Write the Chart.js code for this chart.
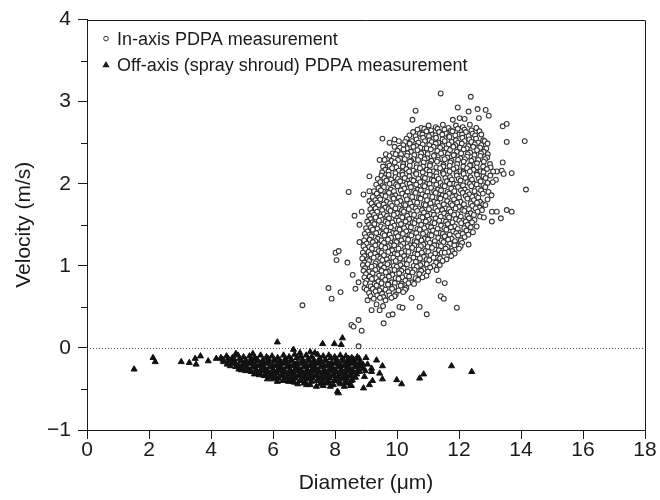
<!DOCTYPE html>
<html lang="en">
<head>
<meta charset="UTF-8">
<title>Droplet velocity vs diameter</title>
<script src="https://cdn.jsdelivr.net/npm/chart.js"></script>
<style>
  html, body { margin: 0; padding: 0; background: #fff; }
</style>
</head>
<body>
<canvas id="scatter" width="660" height="500"></canvas>
<script>
// series names, tick labels and the two point clouds (diameter um, velocity m/s)
const seriesNames = ['In-axis PDPA measurement', 'Off-axis (spray shroud) PDPA measurement'];
const xTickValues = [0, 2, 4, 6, 8, 10, 12, 14, 16, 18];
const yTickValues = [-1, 0, 1, 2, 3, 4];

// in-axis droplets: outliers plus the packed core, read row by row
const inAxis = [
  [10.60,2.89],[10.50,2.78],[11.41,3.10],[12.38,3.06],[11.96,2.93],[12.31,2.88],[12.60,2.91],[12.86,2.90],
  [12.96,2.83],[12.64,2.80],[11.80,2.78],[12.02,2.80],[12.18,2.79],[13.41,2.70],[13.54,2.73],
  [10.78,2.68],[11.02,2.71],[11.25,2.69],[11.48,2.72],[11.66,2.68],[11.90,2.71],[12.12,2.69],[12.35,2.72],
  [10.66,2.66],[10.88,2.67],[11.10,2.65],[11.31,2.67],[11.53,2.66],[11.74,2.65],[11.96,2.67],[12.18,2.66],[12.40,2.65],[12.56,2.68],
  [10.52,2.63],[10.74,2.61],[10.95,2.64],[11.14,2.60],[11.36,2.63],[11.58,2.61],[11.79,2.64],[12.00,2.60],
  [12.22,2.63],[12.44,2.61],[12.66,2.64],
  [10.40,2.59],[10.60,2.58],[10.82,2.60],[11.03,2.58],[11.24,2.59],[11.46,2.60],[11.67,2.58],[11.88,2.59],
  [12.10,2.60],[12.31,2.58],[12.52,2.59],[12.72,2.60],
  [9.53,2.55],[9.92,2.54],[10.31,2.55],[10.63,2.54],[10.84,2.56],[11.05,2.53],[11.26,2.56],[11.47,2.54],
  [11.69,2.57],[11.90,2.53],[12.11,2.56],[12.33,2.54],[12.55,2.55],[12.78,2.53],[13.54,2.51],[14.12,2.52],
  [10.06,2.52],[10.26,2.51],[10.48,2.52],[10.69,2.50],[10.90,2.52],[11.12,2.51],[11.33,2.50],[11.54,2.52],
  [11.76,2.51],[11.97,2.50],[12.18,2.52],[12.40,2.51],[12.62,2.50],[12.83,2.52],
  [9.76,2.50],[10.20,2.47],[10.41,2.49],[10.62,2.46],[10.83,2.48],[11.04,2.47],[11.25,2.49],[11.46,2.46],
  [11.67,2.48],[11.88,2.47],[12.09,2.49],[12.30,2.46],[12.51,2.48],[12.72,2.47],[12.92,2.49],
  [9.92,2.45],[10.10,2.44],[10.32,2.43],[10.53,2.45],[10.75,2.44],[10.96,2.43],[11.18,2.45],[11.39,2.44],
  [11.60,2.43],[11.82,2.45],[12.03,2.44],[12.25,2.43],[12.46,2.45],[12.68,2.44],[12.88,2.43],
  [10.02,2.40],[10.21,2.42],[10.45,2.39],[10.66,2.41],[10.86,2.38],[11.09,2.42],[11.30,2.40],[11.52,2.38],
  [11.71,2.41],[11.93,2.39],[12.15,2.42],[12.36,2.38],[12.58,2.41],[12.80,2.39],
  [9.64,2.36],[9.86,2.37],[10.13,2.36],[10.34,2.37],[10.56,2.35],[10.78,2.37],[10.99,2.36],[11.21,2.35],
  [11.42,2.37],[11.64,2.36],[11.85,2.35],[12.07,2.37],[12.28,2.36],[12.50,2.35],[12.71,2.37],[12.93,2.36],
  [9.44,2.29],[9.76,2.34],[9.96,2.36],[10.10,2.31],[10.32,2.34],[10.53,2.30],[10.76,2.33],[10.97,2.31],
  [11.19,2.34],[11.40,2.30],[11.62,2.32],[11.83,2.35],[12.04,2.31],[12.26,2.33],[12.47,2.30],[12.69,2.34],[12.91,2.32],
  [9.60,2.29],[9.82,2.28],[10.03,2.29],[10.25,2.30],[10.46,2.28],[10.68,2.29],[10.89,2.30],[11.11,2.28],
  [11.32,2.29],[11.54,2.30],[11.76,2.28],[11.97,2.29],[12.19,2.30],[12.40,2.28],[12.62,2.29],[12.84,2.30],
  [9.71,2.25],[9.93,2.26],[10.20,2.24],[10.42,2.27],[10.64,2.23],[10.86,2.26],[11.07,2.24],[11.29,2.27],
  [11.50,2.23],[11.72,2.26],[11.94,2.24],[12.15,2.27],[12.37,2.23],[12.58,2.25],[12.80,2.27],[13.00,2.24],[13.41,2.26],
  [9.55,2.21],[9.76,2.22],[9.98,2.20],[10.19,2.21],[10.41,2.22],[10.63,2.20],[10.84,2.21],[11.06,2.22],
  [11.27,2.20],[11.49,2.21],[11.70,2.22],[11.92,2.20],[12.14,2.21],[12.35,2.22],[12.57,2.20],[12.78,2.21],[13.02,2.20],
  [9.62,2.17],[9.84,2.19],[10.06,2.16],[10.30,2.18],[10.52,2.16],[10.74,2.19],[10.96,2.17],[11.17,2.15],
  [11.39,2.19],[11.60,2.16],[11.82,2.18],[12.04,2.15],[12.26,2.19],[12.47,2.17],[12.69,2.15],[12.90,2.18],
  [13.22,2.15],[13.38,2.16],[13.70,2.13],[9.11,2.09],
  [9.52,2.14],[9.73,2.15],[9.95,2.13],[10.17,2.14],[10.39,2.15],[10.61,2.13],[10.83,2.14],[11.05,2.15],
  [11.27,2.13],[11.48,2.14],[11.70,2.15],[11.92,2.13],[12.14,2.14],[12.35,2.15],[12.57,2.13],[12.79,2.14],[13.10,2.15],
  [9.50,2.10],[9.73,2.11],[9.95,2.08],[10.18,2.11],[10.40,2.09],[10.62,2.12],[10.84,2.08],[11.06,2.11],
  [11.28,2.09],[11.50,2.12],[11.71,2.08],[11.93,2.10],[12.15,2.12],[12.37,2.08],[12.58,2.11],[12.79,2.09],
  [13.01,2.10],[13.44,2.12],
  [9.38,2.06],[9.59,2.07],[9.81,2.05],[10.03,2.06],[10.25,2.07],[10.47,2.05],[10.69,2.06],[10.90,2.07],
  [11.12,2.05],[11.34,2.06],[11.56,2.07],[11.77,2.05],[11.99,2.06],[12.21,2.07],[12.42,2.05],[12.64,2.06],[12.86,2.07],
  [9.46,2.02],[9.66,2.04],[9.88,2.01],[10.10,2.03],[10.31,2.00],[10.53,2.04],[10.75,2.02],[10.96,2.00],
  [11.18,2.04],[11.40,2.01],[11.61,2.03],[11.83,2.00],[12.05,2.04],[12.27,2.02],[12.48,2.00],[12.70,2.03],
  [12.92,2.01],[13.19,2.05],[13.09,2.02],
  [9.33,1.99],[9.54,1.98],[9.76,2.00],[9.97,1.99],[10.19,1.98],[10.41,2.00],[10.62,1.99],[10.84,1.98],
  [11.05,2.00],[11.27,1.99],[11.48,1.98],[11.70,2.00],[11.92,1.99],[12.13,1.98],[12.35,2.00],[12.57,1.99],[12.79,1.98],
  [9.40,1.95],[9.58,1.96],[9.80,1.93],[10.02,1.97],[10.24,1.94],[10.45,1.96],[10.67,1.93],[10.89,1.97],
  [11.10,1.95],[11.32,1.93],[11.54,1.97],[11.75,1.94],[11.97,1.96],[12.19,1.93],[12.40,1.97],[12.62,1.94],
  [12.85,1.96],[14.16,1.93],[8.44,1.90],[9.11,1.91],
  [9.26,1.91],[9.48,1.92],[9.69,1.90],[9.90,1.91],[10.12,1.92],[10.34,1.90],[10.55,1.91],[10.77,1.92],
  [10.98,1.90],[11.20,1.91],[11.42,1.92],[11.63,1.90],[11.85,1.91],[12.06,1.92],[12.28,1.90],[12.50,1.91],
  [12.71,1.92],[12.95,1.90],
  [8.92,1.87],[9.35,1.88],[9.52,1.86],[9.74,1.89],[9.95,1.86],[10.17,1.88],[10.39,1.85],[10.60,1.89],
  [10.82,1.87],[11.03,1.85],[11.25,1.89],[11.47,1.86],[11.68,1.88],[11.90,1.85],[12.12,1.89],[12.33,1.87],
  [12.55,1.85],[12.77,1.88],[13.05,1.86],
  [9.22,1.84],[9.42,1.83],[9.63,1.85],[9.85,1.84],[10.06,1.83],[10.28,1.85],[10.49,1.84],[10.71,1.83],
  [10.92,1.85],[11.14,1.84],[11.36,1.83],[11.57,1.85],[11.79,1.84],[12.00,1.83],[12.22,1.85],[12.43,1.84],[12.62,1.83],
  [9.11,1.79],[9.30,1.80],[9.46,1.81],[9.67,1.78],[9.89,1.82],[10.11,1.79],[10.32,1.81],[10.54,1.78],
  [10.76,1.82],[10.97,1.80],[11.19,1.78],[11.40,1.82],[11.62,1.79],[11.84,1.81],[12.05,1.78],[12.27,1.82],
  [12.48,1.80],[12.68,1.78],[12.92,1.81],
  [9.18,1.76],[9.36,1.77],[9.57,1.75],[9.78,1.76],[10.00,1.77],[10.22,1.75],[10.43,1.76],[10.65,1.77],
  [10.86,1.75],[11.08,1.76],[11.30,1.77],[11.51,1.75],[11.73,1.76],[11.94,1.77],[12.16,1.75],[12.38,1.76],
  [12.58,1.77],[12.78,1.75],
  [9.25,1.72],[9.41,1.74],[9.62,1.71],[9.84,1.73],[10.06,1.70],[10.27,1.74],[10.49,1.72],[10.70,1.70],
  [10.92,1.74],[11.13,1.71],[11.35,1.73],[11.57,1.70],[11.78,1.74],[12.00,1.72],[12.22,1.70],[12.43,1.73],
  [12.66,1.71],[12.85,1.74],
  [9.14,1.69],[9.31,1.70],[9.52,1.68],[9.73,1.69],[9.95,1.70],[10.16,1.68],[10.38,1.69],[10.60,1.70],
  [10.81,1.68],[11.03,1.69],[11.24,1.70],[11.46,1.68],[11.68,1.69],[11.89,1.70],[12.11,1.68],[12.32,1.69],
  [12.54,1.70],[12.74,1.68],
  [8.86,1.66],[8.63,1.61],[9.20,1.65],[9.36,1.66],[9.57,1.63],[9.79,1.67],[10.00,1.64],[10.22,1.66],
  [10.44,1.63],[10.65,1.67],[10.87,1.65],[11.08,1.63],[11.30,1.67],[11.52,1.64],[11.73,1.66],[11.95,1.63],
  [12.17,1.67],[12.38,1.64],[12.60,1.66],[13.06,1.66],[13.22,1.66],[13.54,1.68],[13.70,1.66],
  [9.10,1.61],[9.26,1.62],[9.47,1.60],[9.68,1.61],[9.90,1.62],[10.11,1.60],[10.33,1.61],[10.55,1.62],
  [10.76,1.60],[10.98,1.61],[11.19,1.62],[11.41,1.60],[11.63,1.61],[11.84,1.62],[12.06,1.60],[12.27,1.61],
  [12.48,1.62],[12.68,1.60],
  [9.15,1.57],[9.31,1.59],[9.52,1.56],[9.74,1.58],[9.95,1.55],[10.17,1.59],[10.39,1.57],[10.60,1.55],
  [10.82,1.59],[11.03,1.56],[11.25,1.58],[11.47,1.55],[11.68,1.59],[11.90,1.57],[12.11,1.55],[12.32,1.58],
  [12.50,1.56],[12.80,1.59],[13.35,1.58],
  [9.04,1.54],[9.21,1.53],[9.42,1.55],[9.63,1.54],[9.85,1.53],[10.06,1.55],[10.28,1.54],[10.50,1.53],
  [10.71,1.55],[10.93,1.54],[11.14,1.53],[11.36,1.55],[11.58,1.54],[11.79,1.53],[12.01,1.55],[12.22,1.54],[12.42,1.53],
  [8.79,1.50],[9.10,1.50],[9.27,1.51],[9.48,1.48],[9.70,1.52],[9.91,1.49],[10.13,1.51],[10.34,1.48],
  [10.56,1.52],[10.78,1.50],[10.99,1.48],[11.21,1.52],[11.42,1.49],[11.64,1.51],[11.86,1.48],[12.07,1.52],
  [12.28,1.50],[12.57,1.48],[13.06,1.54],
  [9.00,1.46],[9.16,1.47],[9.37,1.45],[9.58,1.46],[9.80,1.47],[10.02,1.45],[10.23,1.46],[10.45,1.47],
  [10.66,1.45],[10.88,1.46],[11.10,1.47],[11.31,1.45],[11.53,1.46],[11.74,1.47],[11.96,1.45],[12.17,1.46],[12.38,1.47],
  [9.05,1.42],[9.22,1.44],[9.43,1.41],[9.65,1.43],[9.86,1.40],[10.08,1.44],[10.30,1.42],[10.51,1.40],
  [10.73,1.44],[10.94,1.41],[11.16,1.43],[11.38,1.40],[11.59,1.44],[11.81,1.42],[12.02,1.40],[12.24,1.43],[12.45,1.41],
  [8.96,1.39],[9.12,1.38],[9.33,1.40],[9.54,1.39],[9.76,1.38],[9.97,1.40],[10.19,1.39],[10.40,1.38],
  [10.62,1.40],[10.84,1.39],[11.05,1.38],[11.27,1.40],[11.48,1.39],[11.70,1.38],[11.91,1.40],[12.12,1.39],[12.30,1.38],
  [9.00,1.35],[9.17,1.36],[9.38,1.33],[9.60,1.37],[9.81,1.34],[10.03,1.36],[10.25,1.33],[10.46,1.37],
  [10.68,1.35],[10.89,1.33],[11.11,1.37],[11.33,1.34],[11.54,1.36],[11.76,1.33],[11.97,1.37],[12.18,1.35],
  [8.94,1.31],[9.12,1.32],[9.30,1.30],[9.50,1.31],[9.71,1.32],[9.93,1.30],[10.14,1.31],[10.36,1.32],
  [10.57,1.30],[10.79,1.31],[11.00,1.32],[11.22,1.30],[11.44,1.31],[11.65,1.32],[11.87,1.30],[12.06,1.31],
  [8.79,1.29],[9.02,1.27],[9.22,1.29],[9.40,1.26],[9.58,1.28],[9.77,1.25],[9.98,1.29],[10.20,1.27],
  [10.42,1.25],[10.63,1.29],[10.85,1.26],[11.06,1.28],[11.28,1.25],[11.50,1.29],[11.71,1.27],[11.93,1.25],
  [12.10,1.28],[12.31,1.26],
  [8.92,1.24],[9.10,1.23],[9.30,1.25],[9.50,1.24],[9.70,1.23],[9.91,1.25],[10.12,1.24],[10.34,1.23],
  [10.56,1.25],[10.77,1.24],[10.99,1.23],[11.20,1.25],[11.42,1.24],[11.63,1.23],[11.85,1.25],[12.05,1.24],
  [8.02,1.16],[8.12,1.18],[8.98,1.20],[9.19,1.21],[9.41,1.18],[9.62,1.22],[9.84,1.19],[10.05,1.21],
  [10.27,1.18],[10.49,1.22],[10.70,1.20],[10.92,1.18],[11.13,1.22],[11.35,1.19],[11.57,1.21],[11.78,1.18],[12.00,1.21],
  [8.90,1.16],[9.08,1.17],[9.29,1.15],[9.50,1.16],[9.72,1.17],[9.93,1.15],[10.15,1.16],[10.37,1.17],
  [10.58,1.15],[10.80,1.16],[11.01,1.17],[11.23,1.15],[11.44,1.16],[11.66,1.17],[11.86,1.15],
  [8.95,1.12],[9.15,1.14],[9.36,1.11],[9.58,1.13],[9.79,1.10],[10.01,1.14],[10.23,1.12],[10.44,1.10],
  [10.66,1.14],[10.87,1.11],[11.09,1.13],[11.31,1.10],[11.54,1.16],[11.75,1.12],
  [8.88,1.09],[9.05,1.08],[9.25,1.10],[9.46,1.09],[9.67,1.08],[9.88,1.10],[10.10,1.09],[10.31,1.08],
  [10.53,1.10],[10.74,1.09],[10.96,1.08],[11.18,1.10],[11.39,1.09],[11.60,1.08],
  [8.05,1.07],[8.40,1.04],[8.95,1.04],[9.10,1.06],[9.31,1.03],[9.53,1.07],[9.74,1.04],[9.96,1.06],
  [10.18,1.03],[10.39,1.07],[10.61,1.05],[10.82,1.03],[11.04,1.07],[11.26,1.04],[11.47,1.06],
  [8.90,1.01],[9.06,1.02],[9.27,1.00],[9.48,1.01],[9.69,1.02],[9.90,1.00],[10.11,1.01],[10.32,1.02],
  [10.54,1.00],[10.75,1.01],[10.96,1.02],[11.18,1.00],[11.38,1.01],
  [8.97,0.97],[9.18,0.99],[9.38,0.96],[9.58,0.98],[9.79,0.95],[9.99,0.99],[10.21,0.97],[10.42,0.95],
  [10.64,0.99],[10.85,0.96],[11.07,0.98],[11.28,0.95],
  [8.92,0.94],[9.10,0.93],[9.30,0.95],[9.50,0.94],[9.71,0.93],[9.92,0.95],[10.14,0.94],[10.35,0.93],
  [10.57,0.95],[10.78,0.94],[11.00,0.93],
  [8.57,0.89],[9.00,0.90],[9.21,0.91],[9.42,0.88],[9.64,0.92],[9.85,0.89],[10.07,0.91],[10.29,0.88],
  [10.50,0.92],[10.72,0.90],[10.95,0.88],
  [8.95,0.86],[9.12,0.87],[9.32,0.85],[9.53,0.86],[9.74,0.87],[9.96,0.85],[10.17,0.86],[10.39,0.87],
  [10.60,0.85],[10.82,0.86],
  [8.76,0.80],[9.02,0.82],[9.19,0.84],[9.40,0.81],[9.62,0.83],[9.83,0.80],[10.05,0.84],[10.27,0.82],
  [10.48,0.80],[10.68,0.83],[11.34,0.82],[11.54,0.79],
  [8.98,0.79],[9.28,0.78],[9.50,0.79],[9.72,0.78],[9.93,0.79],[10.15,0.78],[10.37,0.79],[10.55,0.78],
  [7.79,0.73],[8.95,0.73],[9.15,0.75],[9.34,0.76],[9.52,0.73],[9.71,0.77],[9.91,0.74],[10.12,0.76],[10.30,0.73],
  [9.02,0.71],[9.22,0.72],[9.43,0.70],[9.63,0.71],[9.84,0.72],[10.05,0.70],[10.26,0.71],
  [8.18,0.68],[8.66,0.72],[9.10,0.67],[9.31,0.69],[9.52,0.66],[9.74,0.68],[9.96,0.65],[10.20,0.68],
  [9.15,0.63],[9.36,0.64],[9.56,0.62],[9.76,0.64],[9.92,0.63],
  [7.89,0.60],[9.05,0.58],[9.25,0.60],[9.45,0.61],[9.63,0.58],[9.82,0.61],[10.47,0.61],[11.41,0.63],[11.51,0.60],
  [6.95,0.52],[9.18,0.46],[9.34,0.53],[9.55,0.51],[9.44,0.46],[10.08,0.50],[10.18,0.49],[10.73,0.50],[11.93,0.49],
  [9.73,0.40],[9.86,0.41],[10.96,0.41],[9.57,0.30],[8.53,0.28],[8.60,0.26],[8.76,0.34],[8.86,0.21],[8.76,0.02]
];

// off-axis (spray shroud) droplets: outliers plus the packed band below zero
const offAxis = [
  [1.52,-0.26],[2.13,-0.12],[2.20,-0.17],[3.04,-0.17],[3.30,-0.18],[3.52,-0.20],[3.49,-0.13],[3.66,-0.10],
  [3.91,-0.16],[4.17,-0.13],[6.14,0.07],[6.66,-0.02],[6.87,-0.06],[7.20,-0.05],[7.60,0.05],[7.98,0.05],
  [8.20,0.04],[8.24,0.12],[9.34,-0.15],[9.53,-0.22],[9.18,-0.25],[9.18,-0.29],[9.44,-0.31],[9.53,-0.38],
  [9.21,-0.40],[9.11,-0.45],[8.92,-0.49],[9.99,-0.39],[10.15,-0.44],[10.73,-0.37],[10.86,-0.32],[11.76,-0.22],
  [12.41,-0.29],[8.11,-0.55],[8.98,-0.28],[8.79,-0.18],[8.44,-0.13],[6.14,-0.41],[5.82,-0.38],[6.63,-0.41],
  [7.08,-0.45],[8.08,-0.53],[8.53,-0.46],[5.56,-0.33],[4.98,-0.27],[8.95,-0.35],[9.05,-0.20],[9.00,-0.12],
  [7.35,-0.06],[5.35,-0.07],[4.80,-0.07],
  [4.32,-0.12],[4.50,-0.10],[4.69,-0.12],[4.87,-0.09],[5.05,-0.11],[5.24,-0.10],[5.42,-0.12],[5.60,-0.09],
  [5.79,-0.11],[5.97,-0.10],[6.15,-0.12],[6.34,-0.09],[6.52,-0.11],[6.70,-0.08],[6.89,-0.10],[7.07,-0.09],
  [7.25,-0.11],[7.44,-0.08],[7.62,-0.10],[7.80,-0.09],[7.99,-0.11],[8.17,-0.09],[8.35,-0.10],[8.54,-0.12],[8.72,-0.11],
  [4.38,-0.14],[4.56,-0.13],[4.75,-0.14],[4.93,-0.13],[5.12,-0.15],[5.30,-0.13],[5.49,-0.14],[5.67,-0.15],
  [5.85,-0.13],[6.04,-0.14],[6.22,-0.15],[6.40,-0.13],[6.59,-0.14],[6.77,-0.12],[6.95,-0.14],[7.14,-0.13],
  [7.32,-0.15],[7.50,-0.13],[7.69,-0.14],[7.87,-0.12],[8.05,-0.14],[8.24,-0.13],[8.42,-0.15],[8.60,-0.14],[8.78,-0.13],
  [4.40,-0.17],[4.59,-0.16],[4.78,-0.18],[4.96,-0.16],[5.14,-0.18],[5.33,-0.17],[5.51,-0.16],[5.69,-0.18],
  [5.88,-0.17],[6.06,-0.16],[6.24,-0.18],[6.43,-0.17],[6.61,-0.16],[6.79,-0.18],[6.98,-0.17],[7.16,-0.16],
  [7.34,-0.18],[7.53,-0.17],[7.71,-0.16],[7.89,-0.18],[8.08,-0.17],[8.26,-0.16],[8.44,-0.18],[8.63,-0.17],[8.81,-0.18],
  [4.52,-0.20],[4.70,-0.19],[4.89,-0.21],[5.07,-0.20],[5.25,-0.19],[5.44,-0.21],[5.62,-0.20],[5.80,-0.19],
  [5.99,-0.21],[6.17,-0.20],[6.35,-0.19],[6.54,-0.21],[6.72,-0.20],[6.90,-0.19],[7.09,-0.21],[7.27,-0.20],
  [7.45,-0.19],[7.64,-0.21],[7.82,-0.20],[8.00,-0.19],[8.19,-0.21],[8.37,-0.20],[8.55,-0.19],[8.74,-0.21],[8.90,-0.20],
  [4.62,-0.22],[4.80,-0.23],[4.99,-0.22],[5.17,-0.24],[5.35,-0.23],[5.54,-0.22],[5.72,-0.24],[5.90,-0.23],
  [6.09,-0.22],[6.27,-0.24],[6.45,-0.23],[6.64,-0.22],[6.82,-0.24],[7.00,-0.23],[7.19,-0.22],[7.37,-0.24],
  [7.55,-0.23],[7.74,-0.22],[7.92,-0.24],[8.10,-0.23],[8.29,-0.22],[8.47,-0.24],[8.65,-0.23],[8.84,-0.22],
  [4.90,-0.26],[5.08,-0.25],[5.26,-0.27],[5.45,-0.26],[5.63,-0.25],[5.81,-0.27],[6.00,-0.26],[6.18,-0.25],
  [6.36,-0.27],[6.55,-0.26],[6.73,-0.25],[6.91,-0.27],[7.10,-0.26],[7.28,-0.25],[7.46,-0.27],[7.65,-0.26],
  [7.83,-0.25],[8.01,-0.27],[8.20,-0.26],[8.38,-0.25],[8.56,-0.27],[8.75,-0.26],[8.90,-0.25],
  [5.12,-0.28],[5.30,-0.29],[5.49,-0.30],[5.67,-0.28],[5.85,-0.30],[6.04,-0.29],[6.22,-0.28],[6.40,-0.30],
  [6.59,-0.29],[6.77,-0.28],[6.95,-0.30],[7.14,-0.29],[7.32,-0.28],[7.50,-0.30],[7.69,-0.29],[7.87,-0.28],
  [8.05,-0.30],[8.24,-0.29],[8.42,-0.28],[8.60,-0.30],[8.79,-0.29],
  [5.40,-0.32],[5.58,-0.31],[5.76,-0.33],[5.95,-0.32],[6.13,-0.31],[6.31,-0.33],[6.50,-0.32],[6.68,-0.31],
  [6.86,-0.33],[7.05,-0.32],[7.23,-0.31],[7.41,-0.33],[7.60,-0.32],[7.78,-0.31],[7.96,-0.33],[8.15,-0.32],
  [8.33,-0.31],[8.51,-0.33],[8.70,-0.32],
  [5.72,-0.34],[5.90,-0.35],[6.09,-0.36],[6.27,-0.34],[6.45,-0.36],[6.64,-0.35],[6.82,-0.34],[7.00,-0.36],
  [7.19,-0.35],[7.37,-0.34],[7.55,-0.36],[7.74,-0.35],[7.92,-0.34],[8.10,-0.36],[8.29,-0.35],[8.47,-0.34],[8.66,-0.36],
  [6.00,-0.38],[6.18,-0.37],[6.36,-0.39],[6.55,-0.38],[6.73,-0.37],[6.91,-0.39],[7.10,-0.38],[7.28,-0.37],
  [7.46,-0.39],[7.65,-0.38],[7.83,-0.37],[8.01,-0.39],[8.20,-0.38],[8.38,-0.37],[8.56,-0.39],
  [6.32,-0.40],[6.50,-0.41],[6.69,-0.42],[6.87,-0.40],[7.05,-0.42],[7.24,-0.41],[7.42,-0.40],[7.60,-0.42],
  [7.79,-0.41],[7.97,-0.40],[8.15,-0.42],[8.34,-0.41],[8.52,-0.40],
  [6.80,-0.44],[7.00,-0.43],[7.20,-0.45],[7.52,-0.44],[7.72,-0.43],[7.95,-0.45],[8.18,-0.44],[8.40,-0.43],
  [7.40,-0.47],[7.62,-0.46],[7.85,-0.47],[8.30,-0.47],[8.50,-0.46]
];

const FONT = "'Liberation Sans', Arial, Helvetica, sans-serif";
const INK = '#1a1a1a';

const toPoints = arr => arr.map(p => ({ x: p[0], y: p[1] }));
const minus = v => (v < 0 ? '\u2212' + Math.abs(v) : String(v));

// frame, dotted zero line, minor ticks and the in-plot legend
const decorations = {
  id: 'decorations',
  beforeDatasetsDraw(chart) {
    const { ctx, chartArea: a, scales: { y } } = chart;
    const y0 = Math.round(y.getPixelForValue(0)) + 0.5;
    ctx.save();
    ctx.strokeStyle = '#555';
    ctx.lineWidth = 1;
    ctx.setLineDash([1, 2]);
    ctx.beginPath();
    ctx.moveTo(a.left, y0);
    ctx.lineTo(a.right, y0);
    ctx.stroke();
    ctx.restore();
  },
  afterDraw(chart) {
    const { ctx, chartArea: a, scales: { y } } = chart;
    ctx.save();
    ctx.strokeStyle = INK;
    ctx.lineWidth = 1;
    const top = Math.round(a.top) + 0.5;
    const right = Math.round(a.right) + 0.5;
    ctx.beginPath();
    ctx.moveTo(a.left, top);
    ctx.lineTo(right, top);
    ctx.lineTo(right, a.bottom);
    ctx.stroke();

    // half-unit minor ticks on the velocity axis
    for (let i = 0; i < yTickValues.length - 1; i++) {
      const v = (yTickValues[i] + yTickValues[i + 1]) / 2;
      const py = Math.round(y.getPixelForValue(v)) + 0.5;
      ctx.beginPath();
      ctx.moveTo(a.left - 6, py);
      ctx.lineTo(a.left, py);
      ctx.stroke();
    }

    // legend
    ctx.font = '18px ' + FONT;
    ctx.textBaseline = 'middle';
    const mx = a.left + 19, tx = a.left + 30;
    const r1 = a.top + 19, r2 = a.top + 45;
    ctx.beginPath();
    ctx.arc(mx, r1, 2.3, 0, Math.PI * 2);
    ctx.fillStyle = '#fff';
    ctx.fill();
    ctx.strokeStyle = '#333';
    ctx.stroke();
    ctx.fillStyle = INK;
    ctx.beginPath();
    ctx.moveTo(mx, r2 - 3.6);
    ctx.lineTo(mx + 3.6, r2 + 2.6);
    ctx.lineTo(mx - 3.6, r2 + 2.6);
    ctx.closePath();
    ctx.fill();
    ctx.fillText(seriesNames[0], tx, r1 + 1);
    ctx.fillText(seriesNames[1], tx, r2 + 1);
    ctx.restore();
  }
};

const ctx = document.getElementById('scatter').getContext('2d');
new Chart(ctx, {
  type: 'scatter',
  data: {
    datasets: [
      {
        label: seriesNames[1],
        data: toPoints(offAxis),
        pointStyle: 'triangle',
        pointRadius: 3.5,
        borderWidth: 1,
        borderColor: '#111',
        backgroundColor: '#111'
      },
      {
        label: seriesNames[0],
        data: toPoints(inAxis),
        pointStyle: 'circle',
        pointRadius: 2.4,
        borderWidth: 1.1,
        borderColor: '#333',
        backgroundColor: '#fff'
      }
    ]
  },
  options: {
    responsive: false,
    animation: false,
    events: [],
    layout: { padding: { left: 0, right: 15, top: 19, bottom: 0 } },
    plugins: { legend: { display: false }, tooltip: { enabled: false } },
    scales: {
      x: {
        type: 'linear',
        min: 0,
        max: 18,
        afterBuildTicks: s => { s.ticks = xTickValues.map(v => ({ value: v })); },
        afterFit: s => { s.height = 70; },
        grid: { drawOnChartArea: false, drawTicks: true, tickLength: 9, color: INK },
        border: { color: INK, width: 1 },
        ticks: { font: { family: FONT, size: 21 }, color: INK, padding: -1, maxRotation: 0, autoSkip: false },
        title: { display: true, text: 'Diameter (\u03bcm)', font: { family: FONT, size: 21 }, color: INK, padding: { top: 0, bottom: 4 } }
      },
      y: {
        type: 'linear',
        min: -1,
        max: 4,
        afterBuildTicks: s => { s.ticks = yTickValues.map(v => ({ value: v })); },
        afterFit: s => { s.width = 87; },
        grid: { drawOnChartArea: false, drawTicks: true, tickLength: 9, color: INK },
        border: { color: INK, width: 1 },
        ticks: { font: { family: FONT, size: 21 }, color: INK, padding: 7, callback: v => minus(v) },
        title: { display: true, text: 'Velocity (m/s)', font: { family: FONT, size: 21 }, color: INK, padding: { top: 12, bottom: 0 } }
      }
    }
  },
  plugins: [decorations]
});
</script>
</body>
</html>
